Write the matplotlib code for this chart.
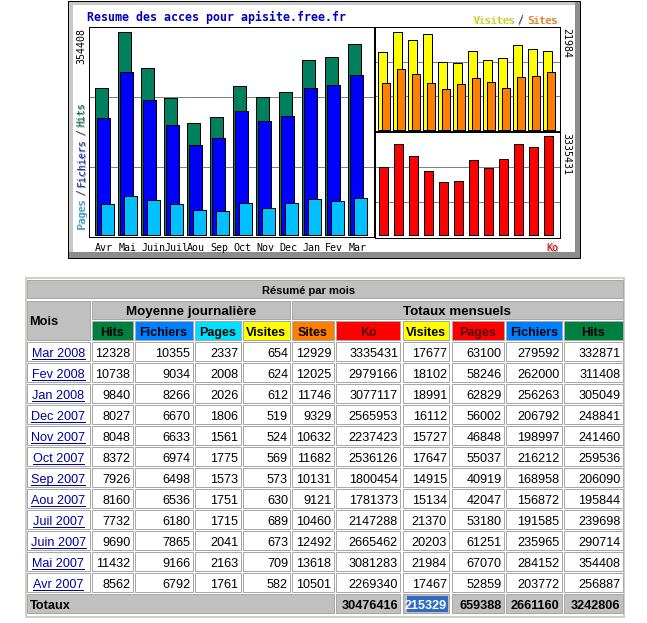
import matplotlib
matplotlib.use("Agg")
import matplotlib.pyplot as plt
from matplotlib.patches import Rectangle
import numpy as np

# ---------------- data (table order: most recent first) ----------------
mois = ["Mar 2008", "Fev 2008", "Jan 2008", "Dec 2007", "Nov 2007", "Oct 2007",
        "Sep 2007", "Aou 2007", "Juil 2007", "Juin 2007", "Mai 2007", "Avr 2007"]
hits_j = [12328, 10738, 9840, 8027, 8048, 8372, 7926, 8160, 7732, 9690, 11432, 8562]
fich_j = [10355, 9034, 8266, 6670, 6633, 6974, 6498, 6536, 6180, 7865, 9166, 6792]
pages_j = [2337, 2008, 2026, 1806, 1561, 1775, 1573, 1751, 1715, 2041, 2163, 1761]
visites_j = [654, 624, 612, 519, 524, 569, 573, 630, 689, 673, 709, 582]
sites_m = [12929, 12025, 11746, 9329, 10632, 11682, 10131, 9121, 10460, 12492, 13618, 10501]
ko_m = [3335431, 2979166, 3077117, 2565953, 2237423, 2536126, 1800454, 1781373,
        2147288, 2665462, 3081283, 2269340]
visites_m = [17677, 18102, 18991, 16112, 15727, 17647, 14915, 15134, 21370, 20203, 21984, 17467]
pages_m = [63100, 58246, 62829, 56002, 46848, 55037, 40919, 42047, 53180, 61251, 67070, 52859]
fich_m = [279592, 262000, 256263, 206792, 198997, 216212, 168958, 156872, 191585, 235965,
          284152, 203772]
hits_m = [332871, 311408, 305049, 248841, 241460, 259536, 206090, 195844, 239698, 290714,
          354408, 256887]
totaux = ["", "30476416", "215329", "659388", "2661160", "3242806"]

chart_months = ["Avr", "Mai", "Juin", "Juil", "Aou", "Sep", "Oct", "Nov", "Dec", "Jan", "Fev", "Mar"]
chart_title = "Resume des acces pour apisite.free.fr"
table_title = "Résumé par mois"
group_heads = ["Moyenne journalière", "Totaux mensuels"]
col_heads = ["Hits", "Fichiers", "Pages", "Visites", "Sites", "Ko", "Visites", "Pages",
             "Fichiers", "Hits"]

# ---------------- colours ----------------
C_HITS, C_FICH, C_PAGES = "#00805c", "#0000ff", "#00c0ff"
C_VIS, C_SITES, C_KO = "#ffff00", "#ff8000", "#ff0000"
head_colors = ["#008040", "#0080ff", "#00e0ff", "#ffff00", "#ff8000", "#ff0000",
               "#ffff00", "#ff0000", "#0080ff", "#008040"]
GRAY = "#c0c0c0"

W, H, DPI = 647, 623, 100
fig = plt.figure(figsize=(W / DPI, H / DPI), dpi=DPI)
fig.patch.set_facecolor("white")
bg = fig.add_axes([0, 0, 1, 1])
bg.set_xlim(0, W)
bg.set_ylim(H, 0)
bg.axis("off")

TF = "Liberation Sans"
MONO = "DejaVu Sans Mono"
PX = 72.0 / DPI  # points per pixel
LW = PX  # one pixel line


def px_axes(x0, y0, x1, y1):
    return fig.add_axes([x0 / W, 1 - y1 / H, (x1 - x0) / W, (y1 - y0) / H])


def rect(x0, y0, x1, y1, fc, ec="none", lw=0, z=1):
    bg.add_patch(Rectangle((x0, y0), x1 - x0, y1 - y0, facecolor=fc, edgecolor=ec,
                           linewidth=lw, zorder=z))


# ---------------- chart frame ----------------
rect(68, 1, 580, 258, "#c8c8c8", ec="black", lw=LW)
rect(575, 2, 579.5, 257.5, "#8c8c8c")
rect(69, 252, 579.5, 257.5, "#8c8c8c")
rect(73, 5, 575, 252, "white")

chron = lambda a: list(reversed(a))
x = np.arange(len(chart_months))


def style_axes(ax):
    ax.set_facecolor("white")
    for s in ax.spines.values():
        s.set_linewidth(LW)
        s.set_color("black")
    ax.set_xticks([])
    ax.set_yticks([])
    for f in (1 / 3, 2 / 3):
        ax.plot([0, 1], [f, f], transform=ax.transAxes, color="#808080", lw=LW, zorder=0.5)


def setup(ax, ax_px, g0, pitch, base, top_px, vmax):
    x0, y0, x1, y1 = ax_px
    ax.set_xlim((x0 - g0) / pitch, (x1 - g0) / pitch)
    s = (base - top_px) / vmax
    ax.set_ylim(-(y1 - base) / s, (base - y0) / s)


# left main chart
L = (88.5, 27, 373.5, 236.5)
axL = px_axes(*L)
style_axes(axL)
setup(axL, L, 94.7, 23.0, 234.5, 32.0, max(hits_m))
bw = 13 / 23
kw = dict(align="edge", edgecolor="black", linewidth=LW, zorder=2)
axL.bar(x, chron(hits_m), bw, color=C_HITS, **kw)
axL.bar(x + 2.7 / 23, chron(fich_m), bw, color=C_FICH, **kw)
axL.bar(x + 6.0 / 23, chron(pages_m), bw, color=C_PAGES, **kw)

# right upper chart
U = (374.5, 27, 559.5, 130.5)
axU = px_axes(*U)
style_axes(axU)
setup(axU, U, 378.3, 15.0, 129.5, 31.7, max(visites_m))
axU.bar(x, chron(visites_m), 8.5 / 15, color=C_VIS, **kw)
axU.bar(x + 4.0 / 15, chron(sites_m), 8.0 / 15, color=C_SITES, **kw)

# right lower chart
B = (374.5, 132, 559.5, 237.5)
axB = px_axes(*B)
style_axes(axB)
setup(axB, B, 379.3, 15.0, 234.5, 136.0, max(ko_m))
axB.bar(x, chron(ko_m), 9.0 / 15, color=C_KO, **kw)


# chart texts
def mono(x_, y_, s, size, color="black", shadow=False, **k):
    if shadow:
        bg.text(x_ + 1, y_ + 1, s, fontsize=size, color="#9a9a9a", family=MONO, zorder=5, **k)
    bg.text(x_, y_, s, fontsize=size, color=color, family=MONO, zorder=6, **k)


SMALL = 6.0 / (0.602 * 100 / 72)  # 6 px advance
bg.text(87, 21, chart_title, fontsize=7.0 / (0.602 * 100 / 72), fontweight="bold",
        color="#0000c0", family=MONO, va="baseline", ha="left", zorder=6)
for i, m in enumerate(chart_months):
    mono(95.3 + 23 * i, 251, m, SMALL, va="baseline", ha="left")

mono(81.5, 28, str(max(hits_m)), SMALL, rotation=90, ha="center", va="top")
mono(566, 28, str(max(visites_m)), SMALL, rotation=-90, ha="center", va="top")
mono(566, 133, str(max(ko_m)), SMALL, rotation=-90, ha="center", va="top")

for s, yb, c in [("Pages", 228, "#20a8e0"), ("/", 195, "#404040"), ("Fichiers", 186, "#1030c0"),
                 ("/", 135, "#404040"), ("Hits", 126, "#007050")]:
    mono(81.5, yb, s, SMALL, color=c, shadow=True, rotation=90, ha="center", va="bottom")

for s, xl, c in [("Visites", 473, "#f0f000"), ("/", 517, "#404040"), ("Sites", 527, "#ff8000")]:
    mono(xl, 23.5, s, SMALL, color=c, shadow=True, ha="left", va="baseline")
mono(546, 251, "Ko", SMALL, color="#e00000", shadow=True, ha="left", va="baseline")

# ---------------- table ----------------
cols = [(27, 89.5), (91.5, 132.5), (134.5, 192.5), (194.5, 240.5), (242.5, 290),
        (292, 333.5), (336, 400), (402.5, 449), (451.5, 503.5), (506, 561.5), (564, 622.5)]
EC = "#a8a8a8"

bg.add_patch(Rectangle((25.5, 277.5), 598, 339.5, fill=False, edgecolor="#d0d0c8",
                       linewidth=2 * LW, zorder=1))


def ttext(x_, y_, s, size, weight="normal", color="black", ha="left"):
    return bg.text(x_, y_, s, fontsize=size, fontweight=weight, color=color, ha=ha,
                   va="baseline", family=TF, zorder=4)


DATA = 9.1
HEAD = 9.0
# title bar
rect(27, 280, 622.5, 298, GRAY, EC, LW)
ttext(309, 293.5, table_title, 8.0, "bold", ha="center")
# header row 1
rect(cols[0][0], 301, cols[0][1], 340, GRAY, EC, LW)
ttext(29.5, 325, "Mois", 9.2, "bold")
rect(cols[1][0], 301, cols[4][1], 318.5, GRAY, EC, LW)
ttext((cols[1][0] + cols[4][1]) / 2, 315, group_heads[0], 9.6, "bold", ha="center")
rect(cols[5][0], 301, cols[10][1], 318.5, GRAY, EC, LW)
ttext((cols[5][0] + cols[10][1]) / 2, 315, group_heads[1], 9.6, "bold", ha="center")
# header row 2
for j, (h, c) in enumerate(zip(col_heads, head_colors)):
    a, b = cols[j + 1]
    rect(a, 321, b, 340, c, EC, LW)
    tc = "#500000" if c == "#ff0000" else "black"
    ttext((a + b) / 2, 336, h, HEAD, "bold", color=tc, ha="center")

renderer = fig.canvas.get_renderer()
rows = list(zip(mois, hits_j, fich_j, pages_j, visites_j, sites_m, ko_m, visites_m, pages_m,
                fich_m, hits_m))
for r, row in enumerate(rows):
    t0 = 342 + 21 * r
    for j, (a, b) in enumerate(cols):
        rect(a, t0, b, t0 + 19, "white", EC, LW)
    lt = ttext((cols[0][0] + cols[0][1]) / 2, t0 + 15, row[0], DATA, color="#0000a0",
               ha="center")
    bb = lt.get_window_extent(renderer=renderer)
    bg.plot([bb.x0, bb.x1], [t0 + 16.5] * 2, color="#0000a0", lw=LW, zorder=4)
    for j, v in enumerate(row[1:]):
        a, b = cols[j + 1]
        ttext(b - 2, t0 + 15, str(v), DATA, ha="right")

# totals row
tt = 594
rect(cols[0][0], tt, cols[5][1], tt + 19, GRAY, EC, LW)
ttext(29.5, tt + 15, "Totaux", 9.2, "bold")
for j, v in enumerate(totaux[1:]):
    a, b = cols[6 + j]
    rect(a, tt, b, tt + 19, GRAY, EC, LW)
    if j == 1:
        rect(406.5, tt + 1.5, 447.5, tt + 18, "#316ac5", z=3)
        ttext(b - 2, tt + 15, v, 9.1, "bold", color="white", ha="right")
    else:
        ttext(b - 2, tt + 15, v, 9.1, "bold", ha="right")

fig.savefig("out.png", dpi=DPI, facecolor="white")
